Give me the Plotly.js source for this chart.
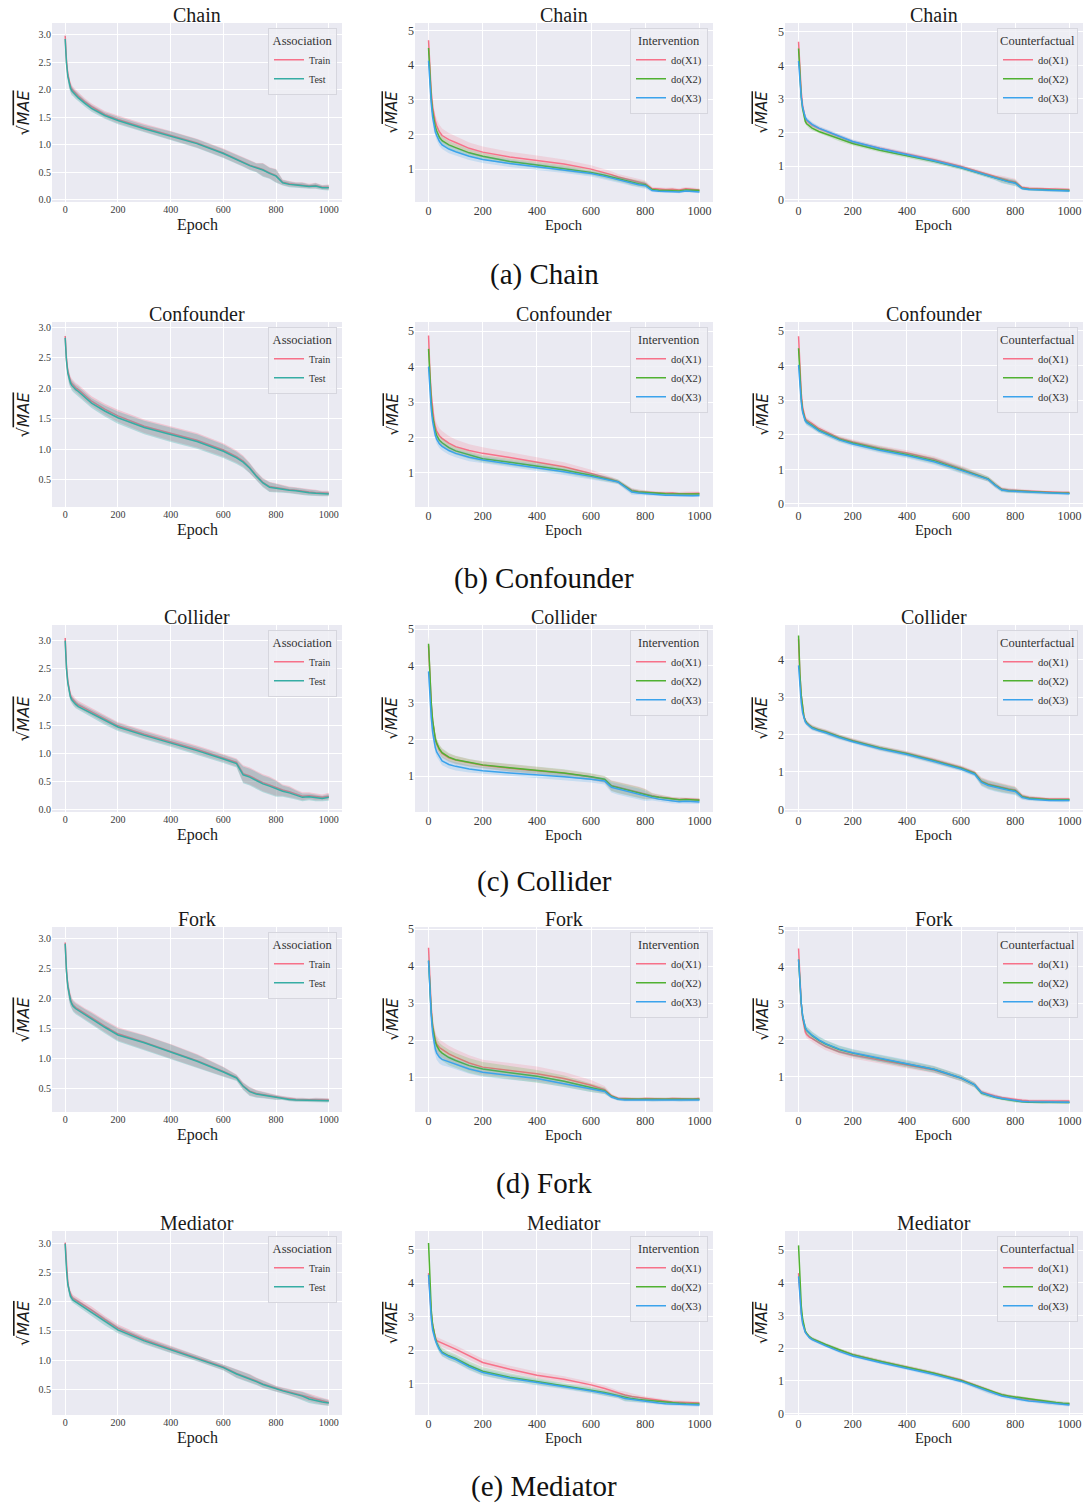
<!DOCTYPE html>
<html>
<head>
<meta charset="utf-8">
<script src="https://cdn.plot.ly/plotly-3.0.1.min.js"></script>
<style>html,body{margin:0;padding:0;background:#fff;}#chart{width:1088px;height:1505px;}</style>
</head>
<body>
<div id="chart"></div>
<script>
// ---------------- DATA ----------------
const epochs = [0,2,5,10,15,20,25,30,40,50,75,100,150,200,300,400,500,600,650,675,700,725,750,775,800,825,850,875,900,925,950,975,1000];
const xTicks = [0,200,400,600,800,1000];
const rowNames = ['Chain','Confounder','Collider','Fork','Mediator'];
const captions = ['(a) Chain','(b) Confounder','(c) Collider','(d) Fork','(e) Mediator'];
const legendTitles = ['Association','Intervention','Counterfactual'];
const assocNames = ['Train','Test'];
const doNames = ['do(X1)','do(X2)','do(X3)'];

// Chain
const chainTrain = [2.98,2.78,2.52,2.28,2.13,2.06,2.01,1.98,1.93,1.88,1.78,1.69,1.55,1.46,1.31,1.17,1.03,0.85,0.74,0.69,0.63,0.59,0.55,0.49,0.44,0.32,0.29,0.28,0.27,0.25,0.26,0.23,0.23];
const chainTest  = [2.92,2.72,2.48,2.24,2.10,2.03,1.98,1.95,1.90,1.85,1.75,1.66,1.53,1.44,1.29,1.16,1.02,0.84,0.73,0.68,0.62,0.58,0.54,0.48,0.43,0.31,0.28,0.27,0.26,0.24,0.25,0.22,0.22];
const chainAssocSd = [0.12,0.10,0.09,0.08,0.08,0.08,0.08,0.07,0.07,0.07,0.06,0.06,0.06,0.07,0.07,0.08,0.08,0.08,0.08,0.08,0.08,0.08,0.12,0.10,0.12,0.05,0.05,0.04,0.05,0.04,0.05,0.04,0.05];
const chainIntX1 = [4.72,4.30,3.80,3.20,2.80,2.55,2.38,2.25,2.08,1.97,1.85,1.77,1.60,1.49,1.35,1.25,1.15,1.00,0.90,0.84,0.77,0.72,0.66,0.62,0.58,0.44,0.42,0.41,0.42,0.40,0.43,0.41,0.40];
const chainIntX2 = [4.50,4.10,3.65,3.05,2.65,2.40,2.22,2.10,1.92,1.82,1.70,1.62,1.47,1.37,1.22,1.12,1.02,0.90,0.82,0.77,0.72,0.67,0.62,0.58,0.55,0.41,0.39,0.38,0.39,0.37,0.40,0.38,0.38];
const chainIntX3 = [4.13,3.80,3.40,2.90,2.50,2.25,2.08,1.97,1.80,1.70,1.58,1.50,1.37,1.28,1.16,1.07,0.98,0.87,0.79,0.74,0.69,0.64,0.60,0.55,0.52,0.38,0.36,0.35,0.36,0.34,0.37,0.35,0.34];
const chainIntSd1 = [0.30,0.28,0.26,0.24,0.22,0.21,0.20,0.20,0.20,0.20,0.19,0.18,0.17,0.16,0.15,0.14,0.13,0.11,0.10,0.10,0.09,0.09,0.10,0.09,0.09,0.05,0.05,0.05,0.05,0.05,0.05,0.05,0.05];
const chainIntSd2 = [0.25,0.22,0.20,0.18,0.16,0.15,0.14,0.13,0.12,0.12,0.11,0.11,0.10,0.10,0.09,0.09,0.09,0.08,0.08,0.08,0.08,0.08,0.09,0.09,0.09,0.04,0.04,0.04,0.04,0.04,0.04,0.04,0.04];
const chainIntSd3 = [0.25,0.22,0.20,0.18,0.17,0.16,0.15,0.14,0.13,0.12,0.12,0.11,0.11,0.10,0.10,0.09,0.09,0.08,0.08,0.08,0.08,0.08,0.09,0.09,0.09,0.04,0.04,0.04,0.04,0.04,0.04,0.04,0.04];
const chainCfX1 = [4.70,4.30,3.80,3.20,2.80,2.55,2.42,2.35,2.27,2.22,2.12,2.04,1.86,1.72,1.53,1.37,1.19,0.99,0.87,0.81,0.74,0.68,0.62,0.57,0.53,0.37,0.34,0.33,0.33,0.31,0.32,0.30,0.30];
const chainCfX2 = [4.50,4.10,3.65,3.05,2.70,2.45,2.33,2.26,2.18,2.13,2.03,1.96,1.80,1.67,1.47,1.31,1.14,0.95,0.84,0.78,0.71,0.65,0.59,0.54,0.50,0.34,0.31,0.30,0.30,0.28,0.29,0.27,0.27];
const chainCfX3 = [4.13,3.85,3.50,3.05,2.75,2.55,2.45,2.38,2.30,2.24,2.13,2.05,1.88,1.73,1.52,1.35,1.16,0.96,0.84,0.78,0.71,0.64,0.58,0.53,0.49,0.33,0.30,0.29,0.29,0.27,0.28,0.26,0.26];
const chainCfSd = [0.15,0.14,0.12,0.10,0.09,0.08,0.08,0.07,0.07,0.07,0.06,0.06,0.06,0.06,0.06,0.06,0.06,0.06,0.06,0.06,0.06,0.06,0.09,0.09,0.09,0.04,0.04,0.04,0.04,0.04,0.04,0.04,0.04];

// Confounder
const confTrain = [2.86,2.68,2.48,2.28,2.17,2.12,2.08,2.05,2.01,1.98,1.88,1.79,1.66,1.55,1.38,1.26,1.15,0.99,0.88,0.81,0.70,0.57,0.46,0.39,0.37,0.36,0.34,0.33,0.31,0.30,0.29,0.28,0.28];
const confTest  = [2.83,2.65,2.45,2.25,2.14,2.09,2.05,2.02,1.98,1.95,1.85,1.76,1.63,1.52,1.36,1.24,1.13,0.97,0.86,0.79,0.69,0.56,0.45,0.38,0.36,0.35,0.33,0.32,0.30,0.29,0.28,0.27,0.27];
const confAssocSd = [0.12,0.10,0.09,0.08,0.08,0.08,0.08,0.08,0.08,0.08,0.08,0.08,0.09,0.10,0.11,0.12,0.12,0.11,0.10,0.09,0.08,0.07,0.07,0.08,0.07,0.06,0.05,0.05,0.05,0.05,0.05,0.04,0.04];
const confIntX1 = [4.88,4.40,3.85,3.20,2.75,2.48,2.30,2.18,2.05,1.97,1.84,1.74,1.63,1.55,1.43,1.31,1.17,0.98,0.88,0.82,0.75,0.62,0.51,0.47,0.45,0.44,0.43,0.42,0.43,0.41,0.42,0.41,0.42];
const confIntX2 = [4.50,4.10,3.60,3.00,2.60,2.35,2.18,2.06,1.92,1.85,1.71,1.62,1.50,1.40,1.30,1.20,1.08,0.93,0.85,0.80,0.75,0.62,0.49,0.46,0.44,0.43,0.42,0.41,0.41,0.40,0.40,0.39,0.40];
const confIntX3 = [4.00,3.70,3.30,2.80,2.45,2.22,2.06,1.95,1.82,1.75,1.63,1.55,1.44,1.36,1.25,1.15,1.03,0.90,0.83,0.78,0.74,0.60,0.46,0.43,0.41,0.40,0.38,0.37,0.37,0.36,0.36,0.35,0.36];
const confIntSd1 = [0.30,0.28,0.27,0.26,0.25,0.24,0.23,0.22,0.21,0.21,0.20,0.20,0.18,0.17,0.15,0.14,0.13,0.11,0.09,0.07,0.06,0.06,0.06,0.06,0.05,0.05,0.05,0.05,0.05,0.05,0.05,0.05,0.05];
const confIntSd2 = [0.22,0.20,0.18,0.16,0.15,0.14,0.13,0.12,0.12,0.12,0.11,0.11,0.10,0.10,0.10,0.10,0.09,0.08,0.08,0.07,0.06,0.07,0.07,0.06,0.05,0.04,0.04,0.04,0.04,0.04,0.04,0.04,0.04];
const confIntSd3 = [0.22,0.20,0.18,0.16,0.15,0.14,0.13,0.13,0.12,0.12,0.12,0.11,0.11,0.10,0.10,0.10,0.09,0.09,0.08,0.07,0.06,0.07,0.08,0.06,0.05,0.04,0.04,0.04,0.04,0.04,0.04,0.04,0.04];
const confCfX1 = [4.85,4.40,3.85,3.20,2.80,2.58,2.47,2.42,2.36,2.32,2.18,2.08,1.90,1.79,1.61,1.47,1.29,1.02,0.88,0.80,0.72,0.56,0.43,0.40,0.39,0.37,0.36,0.35,0.34,0.34,0.33,0.33,0.33];
const confCfX2 = [4.50,4.10,3.65,3.05,2.70,2.52,2.42,2.37,2.31,2.27,2.13,2.04,1.87,1.76,1.58,1.43,1.25,0.99,0.86,0.79,0.72,0.55,0.41,0.38,0.37,0.35,0.34,0.33,0.32,0.32,0.31,0.31,0.31];
const confCfX3 = [4.02,3.75,3.40,2.95,2.65,2.48,2.40,2.35,2.29,2.25,2.11,2.02,1.85,1.73,1.55,1.40,1.22,0.97,0.84,0.78,0.71,0.54,0.40,0.37,0.36,0.34,0.33,0.32,0.31,0.30,0.30,0.29,0.29];
const confCfSd = [0.15,0.14,0.12,0.10,0.09,0.08,0.08,0.08,0.08,0.08,0.07,0.07,0.07,0.07,0.08,0.08,0.09,0.09,0.09,0.08,0.07,0.07,0.06,0.06,0.05,0.05,0.04,0.04,0.04,0.04,0.04,0.04,0.04];

// Collider
const collTrain = [3.05,2.80,2.54,2.28,2.13,2.03,1.98,1.95,1.90,1.86,1.80,1.74,1.61,1.49,1.34,1.21,1.07,0.92,0.84,0.64,0.60,0.54,0.48,0.44,0.39,0.35,0.32,0.28,0.24,0.25,0.23,0.22,0.24];
const collTest  = [3.00,2.75,2.50,2.25,2.10,2.00,1.95,1.92,1.87,1.83,1.77,1.71,1.58,1.47,1.32,1.19,1.05,0.90,0.82,0.62,0.58,0.52,0.46,0.42,0.37,0.33,0.30,0.26,0.22,0.23,0.21,0.20,0.22];
const collAssocSd = [0.12,0.10,0.08,0.07,0.07,0.07,0.07,0.07,0.07,0.07,0.07,0.07,0.07,0.07,0.07,0.07,0.07,0.07,0.07,0.15,0.15,0.15,0.15,0.15,0.14,0.10,0.10,0.08,0.07,0.06,0.06,0.05,0.06];
const collIntX1 = [4.55,4.15,3.60,2.95,2.50,2.20,2.00,1.88,1.72,1.62,1.50,1.44,1.36,1.30,1.22,1.16,1.08,0.98,0.91,0.75,0.70,0.66,0.62,0.57,0.52,0.47,0.44,0.41,0.38,0.37,0.38,0.36,0.36];
const collIntX2 = [4.60,4.20,3.65,3.00,2.52,2.22,2.02,1.90,1.74,1.64,1.52,1.45,1.37,1.31,1.23,1.17,1.09,0.99,0.92,0.74,0.69,0.65,0.61,0.56,0.51,0.46,0.43,0.40,0.37,0.36,0.37,0.35,0.35];
const collIntX3 = [3.85,3.55,3.10,2.60,2.20,1.95,1.78,1.66,1.52,1.42,1.32,1.27,1.20,1.15,1.09,1.05,0.99,0.92,0.87,0.70,0.65,0.61,0.57,0.52,0.47,0.42,0.38,0.35,0.32,0.31,0.32,0.30,0.30];
const collIntSd = [0.25,0.22,0.20,0.18,0.16,0.15,0.14,0.13,0.12,0.12,0.11,0.11,0.10,0.10,0.10,0.10,0.10,0.09,0.09,0.14,0.15,0.15,0.15,0.15,0.14,0.08,0.07,0.06,0.06,0.06,0.05,0.05,0.05];
const collCfX1 = [4.55,4.10,3.60,3.05,2.70,2.48,2.38,2.32,2.25,2.20,2.13,2.08,1.95,1.84,1.65,1.50,1.32,1.12,0.98,0.76,0.68,0.63,0.59,0.55,0.52,0.36,0.32,0.30,0.29,0.28,0.28,0.27,0.28];
const collCfX2 = [4.65,4.15,3.62,3.05,2.70,2.47,2.37,2.31,2.24,2.19,2.12,2.07,1.94,1.83,1.64,1.49,1.30,1.10,0.96,0.74,0.66,0.61,0.57,0.53,0.50,0.34,0.30,0.28,0.27,0.26,0.26,0.25,0.26];
const collCfX3 = [3.85,3.60,3.25,2.85,2.58,2.42,2.34,2.29,2.22,2.17,2.10,2.05,1.92,1.81,1.62,1.47,1.28,1.08,0.94,0.72,0.64,0.59,0.55,0.51,0.48,0.32,0.28,0.26,0.25,0.24,0.24,0.23,0.24];
const collCfSd = [0.15,0.13,0.11,0.09,0.08,0.07,0.07,0.06,0.06,0.06,0.06,0.06,0.06,0.06,0.06,0.06,0.06,0.06,0.06,0.10,0.11,0.11,0.11,0.11,0.10,0.06,0.05,0.04,0.04,0.04,0.04,0.04,0.04];

// Fork
const forkTrain = [2.94,2.72,2.47,2.22,2.07,1.99,1.93,1.89,1.85,1.82,1.75,1.68,1.54,1.41,1.27,1.12,0.96,0.78,0.68,0.54,0.45,0.41,0.39,0.37,0.35,0.34,0.32,0.31,0.31,0.30,0.31,0.30,0.30];
const forkTest  = [2.92,2.70,2.45,2.20,2.05,1.97,1.91,1.87,1.83,1.80,1.73,1.66,1.52,1.39,1.26,1.11,0.95,0.77,0.67,0.53,0.44,0.40,0.38,0.36,0.34,0.33,0.31,0.30,0.30,0.29,0.30,0.29,0.29];
const forkAssocSd = [0.10,0.10,0.10,0.10,0.10,0.10,0.09,0.09,0.09,0.09,0.09,0.10,0.10,0.11,0.12,0.12,0.11,0.08,0.05,0.06,0.07,0.06,0.05,0.04,0.04,0.03,0.03,0.03,0.03,0.03,0.03,0.03,0.03];
const forkIntX1 = [4.50,4.05,3.50,2.85,2.40,2.15,2.00,1.90,1.80,1.75,1.63,1.54,1.38,1.27,1.18,1.09,0.96,0.78,0.66,0.50,0.43,0.42,0.42,0.41,0.42,0.41,0.42,0.41,0.42,0.41,0.42,0.41,0.42];
const forkIntX2 = [4.15,3.80,3.30,2.75,2.35,2.10,1.95,1.85,1.72,1.65,1.53,1.45,1.31,1.22,1.12,1.02,0.89,0.72,0.63,0.48,0.41,0.40,0.40,0.39,0.40,0.39,0.40,0.39,0.40,0.39,0.40,0.39,0.40];
const forkIntX3 = [4.15,3.80,3.25,2.65,2.20,1.92,1.76,1.65,1.54,1.48,1.42,1.36,1.22,1.13,1.04,0.96,0.82,0.68,0.61,0.46,0.40,0.38,0.38,0.37,0.38,0.37,0.38,0.37,0.38,0.37,0.38,0.37,0.38];
const forkIntSd1 = [0.30,0.28,0.27,0.26,0.25,0.24,0.23,0.22,0.22,0.22,0.22,0.21,0.21,0.20,0.20,0.20,0.18,0.14,0.10,0.05,0.04,0.04,0.04,0.04,0.04,0.04,0.04,0.04,0.04,0.04,0.04,0.04,0.04];
const forkIntSd2 = [0.25,0.24,0.23,0.22,0.22,0.21,0.21,0.21,0.21,0.21,0.21,0.20,0.20,0.19,0.18,0.17,0.15,0.12,0.09,0.05,0.04,0.04,0.04,0.04,0.04,0.04,0.04,0.04,0.04,0.04,0.04,0.04,0.04];
const forkIntSd3 = [0.25,0.24,0.23,0.22,0.21,0.20,0.19,0.18,0.17,0.16,0.15,0.14,0.13,0.12,0.11,0.10,0.09,0.08,0.07,0.04,0.04,0.04,0.04,0.04,0.04,0.04,0.04,0.04,0.04,0.04,0.04,0.04,0.04];
const forkCfX1 = [4.50,4.10,3.60,3.00,2.60,2.35,2.22,2.15,2.08,2.04,1.92,1.82,1.68,1.59,1.45,1.32,1.18,0.95,0.78,0.58,0.52,0.47,0.43,0.40,0.37,0.35,0.34,0.34,0.33,0.34,0.33,0.34,0.33];
const forkCfX2 = [4.20,3.90,3.50,3.00,2.65,2.45,2.33,2.26,2.18,2.12,1.99,1.89,1.74,1.64,1.49,1.35,1.20,0.96,0.77,0.55,0.48,0.43,0.39,0.36,0.33,0.31,0.30,0.30,0.29,0.30,0.29,0.30,0.29];
const forkCfX3 = [4.20,3.90,3.50,3.00,2.66,2.46,2.34,2.27,2.19,2.13,2.00,1.90,1.75,1.65,1.50,1.36,1.20,0.96,0.77,0.56,0.49,0.44,0.40,0.37,0.34,0.32,0.31,0.31,0.30,0.31,0.30,0.30,0.30];
const forkCfSd = [0.15,0.14,0.13,0.12,0.11,0.10,0.10,0.10,0.10,0.10,0.10,0.10,0.10,0.10,0.10,0.10,0.09,0.08,0.07,0.06,0.05,0.05,0.04,0.04,0.04,0.04,0.04,0.04,0.04,0.04,0.04,0.04,0.04];

// Mediator
const medTrain = [3.02,2.83,2.58,2.33,2.20,2.13,2.09,2.06,2.03,2.01,1.94,1.86,1.70,1.55,1.35,1.19,1.04,0.88,0.77,0.73,0.69,0.64,0.59,0.55,0.51,0.48,0.45,0.42,0.39,0.35,0.32,0.29,0.27];
const medTest  = [3.00,2.80,2.55,2.30,2.17,2.10,2.06,2.03,2.00,1.97,1.90,1.82,1.66,1.52,1.33,1.18,1.03,0.87,0.76,0.72,0.68,0.63,0.58,0.54,0.50,0.47,0.44,0.41,0.38,0.33,0.30,0.28,0.26];
const medAssocSd = [0.08,0.08,0.07,0.07,0.06,0.06,0.06,0.06,0.06,0.06,0.06,0.06,0.06,0.06,0.06,0.06,0.05,0.05,0.07,0.07,0.07,0.06,0.06,0.06,0.05,0.05,0.05,0.06,0.07,0.07,0.06,0.06,0.05];
const medIntX1 = [4.30,4.00,3.60,3.10,2.75,2.50,2.38,2.28,2.24,2.20,2.12,2.03,1.82,1.63,1.43,1.25,1.13,0.96,0.85,0.78,0.71,0.66,0.61,0.58,0.55,0.52,0.49,0.47,0.45,0.44,0.43,0.42,0.42];
const medIntX2 = [5.20,4.70,4.00,3.20,2.75,2.50,2.35,2.22,2.05,1.94,1.83,1.75,1.54,1.37,1.19,1.06,0.94,0.80,0.73,0.68,0.64,0.58,0.55,0.52,0.50,0.47,0.45,0.43,0.42,0.41,0.40,0.39,0.39];
const medIntX3 = [4.25,3.95,3.50,2.95,2.60,2.42,2.30,2.19,2.02,1.91,1.80,1.72,1.50,1.33,1.16,1.03,0.91,0.78,0.70,0.66,0.62,0.55,0.52,0.50,0.48,0.45,0.42,0.40,0.39,0.38,0.37,0.36,0.36];
const medIntSd1 = [0.20,0.18,0.16,0.14,0.12,0.11,0.11,0.11,0.11,0.11,0.11,0.11,0.11,0.11,0.10,0.10,0.09,0.09,0.09,0.09,0.08,0.10,0.09,0.08,0.07,0.06,0.06,0.05,0.05,0.05,0.05,0.05,0.05];
const medIntSd2 = [0.20,0.18,0.16,0.14,0.12,0.12,0.12,0.12,0.12,0.12,0.12,0.12,0.12,0.12,0.11,0.10,0.09,0.08,0.08,0.08,0.08,0.10,0.09,0.08,0.07,0.06,0.06,0.05,0.05,0.05,0.05,0.05,0.05];
const medIntSd3 = [0.18,0.16,0.14,0.12,0.11,0.10,0.10,0.10,0.10,0.10,0.10,0.10,0.10,0.10,0.10,0.09,0.08,0.08,0.07,0.07,0.07,0.09,0.08,0.07,0.06,0.05,0.05,0.05,0.05,0.05,0.05,0.05,0.05];
const medCfX1 = [4.30,4.00,3.60,3.10,2.80,2.60,2.50,2.44,2.34,2.28,2.18,2.10,1.94,1.80,1.60,1.42,1.23,1.02,0.86,0.78,0.70,0.63,0.57,0.52,0.49,0.45,0.42,0.39,0.37,0.34,0.32,0.30,0.29];
const medCfX2 = [5.15,4.70,4.05,3.30,2.90,2.65,2.52,2.45,2.35,2.29,2.19,2.11,1.95,1.80,1.60,1.42,1.23,1.01,0.86,0.78,0.70,0.63,0.57,0.53,0.50,0.46,0.43,0.40,0.38,0.35,0.33,0.31,0.30];
const medCfX3 = [4.20,3.95,3.55,3.05,2.75,2.57,2.48,2.42,2.32,2.26,2.16,2.07,1.90,1.76,1.56,1.38,1.19,0.98,0.83,0.75,0.66,0.59,0.53,0.49,0.45,0.41,0.38,0.36,0.34,0.31,0.29,0.27,0.26];
const medCfSd = [0.10,0.09,0.08,0.07,0.06,0.06,0.05,0.05,0.05,0.05,0.05,0.05,0.05,0.05,0.05,0.05,0.05,0.05,0.06,0.06,0.06,0.05,0.05,0.05,0.05,0.05,0.05,0.05,0.05,0.05,0.05,0.05,0.05];

// ---------------- STRUCTURE ----------------
const panelData = [
  [[[chainTrain,chainAssocSd],[chainTest,chainAssocSd]],
   [[chainIntX1,chainIntSd1],[chainIntX2,chainIntSd2],[chainIntX3,chainIntSd3]],
   [[chainCfX1,chainCfSd],[chainCfX2,chainCfSd],[chainCfX3,chainCfSd]]],
  [[[confTrain,confAssocSd],[confTest,confAssocSd]],
   [[confIntX1,confIntSd1],[confIntX2,confIntSd2],[confIntX3,confIntSd3]],
   [[confCfX1,confCfSd],[confCfX2,confCfSd],[confCfX3,confCfSd]]],
  [[[collTrain,collAssocSd],[collTest,collAssocSd]],
   [[collIntX1,collIntSd],[collIntX2,collIntSd],[collIntX3,collIntSd]],
   [[collCfX1,collCfSd],[collCfX2,collCfSd],[collCfX3,collCfSd]]],
  [[[forkTrain,forkAssocSd],[forkTest,forkAssocSd]],
   [[forkIntX1,forkIntSd1],[forkIntX2,forkIntSd2],[forkIntX3,forkIntSd3]],
   [[forkCfX1,forkCfSd],[forkCfX2,forkCfSd],[forkCfX3,forkCfSd]]],
  [[[medTrain,medAssocSd],[medTest,medAssocSd]],
   [[medIntX1,medIntSd1],[medIntX2,medIntSd2],[medIntX3,medIntSd3]],
   [[medCfX1,medCfSd],[medCfX2,medCfSd],[medCfX3,medCfSd]]]
];

// ---------------- LAYOUT / STYLE ----------------
const W = 1088, H = 1505;
const px2x = p => p / W;
const py2y = p => 1 - p / H;
const colPx = [[52,342],[415,713],[785,1083]];
const rowPx = [[23,202],[322,507],[625,812],[927,1112],[1231,1415]];
const yRanges = [
  [[-0.04,3.21],[0.05,5.22],[-0.07,5.26]],
  [[0.055,3.09],[0.035,5.26],[-0.09,5.26]],
  [[-0.04,3.28],[0.03,5.11],[-0.07,4.93]],
  [[0.10,3.20],[0.056,5.06],[0.03,5.09]],
  [[0.055,3.22],[0.06,5.56],[-0.05,5.59]]
];
const captionY = [275,578,881,1183,1486];
const assocColors = ['247,113,137','54,173,164'];
const doColors = ['247,113,137','80,177,49','59,163,236'];
const serif = 'Liberation Serif, Times New Roman, serif';

const traces = [];
const layout = {
  width: W, height: H,
  margin: {l:0, r:0, t:0, b:0},
  paper_bgcolor: '#ffffff',
  plot_bgcolor: '#EAEAF2',
  showlegend: true,
  annotations: []
};

const revEpochs = epochs.slice().reverse();

for (let r = 0; r < 5; r++) {
  for (let c = 0; c < 3; c++) {
    const idx = r * 3 + c + 1;
    const s = idx === 1 ? '' : String(idx);
    const xa = 'x' + s, ya = 'y' + s;
    const legKey = 'legend' + s;
    const series = panelData[r][c];
    const names = c === 0 ? assocNames : doNames;
    const cols = c === 0 ? assocColors : doColors;
    const alpha = c === 0 ? 0.3 : 0.2;

    series.forEach((pair, i) => {
      const mean = pair[0], sd = pair[1];
      const upper = mean.map((v, j) => v + sd[j]);
      const lower = mean.map((v, j) => v - sd[j]);
      traces.push({
        x: epochs.concat(revEpochs),
        y: upper.concat(lower.slice().reverse()),
        type: 'scatter', mode: 'lines', fill: 'toself',
        fillcolor: 'rgba(' + cols[i] + ',' + alpha + ')',
        line: {width: 0, color: 'rgba(0,0,0,0)'},
        hoverinfo: 'skip', showlegend: false,
        xaxis: xa, yaxis: ya
      });
      traces.push({
        x: epochs, y: mean,
        type: 'scatter', mode: 'lines',
        name: names[i],
        line: {color: 'rgb(' + cols[i] + ')', width: 1.5},
        xaxis: xa, yaxis: ya,
        legend: legKey
      });
    });

    const [x0, x1] = colPx[c];
    const [y0, y1] = rowPx[r];
    const tickSize = c === 0 ? 10 : 12;

    layout['xaxis' + s] = {
      domain: [px2x(x0), px2x(x1)],
      anchor: ya,
      range: [-50, 1050],
      tickvals: xTicks,
      ticktext: xTicks.map(String),
      showgrid: true, gridcolor: '#ffffff', gridwidth: 1,
      zeroline: false, showline: false, ticks: '',
      tickfont: {family: serif, size: tickSize, color: '#3a3a3a'}
    };
    layout['yaxis' + s] = {
      domain: [py2y(y1), py2y(y0)],
      anchor: xa,
      range: yRanges[r][c],
      dtick: c === 0 ? 0.5 : 1,
      tick0: 0,
      tickformat: c === 0 ? '.1f' : 'd',
      showgrid: true, gridcolor: '#ffffff', gridwidth: 1,
      zeroline: false, showline: false, ticks: '',
      tickfont: {family: serif, size: tickSize, color: '#3a3a3a'}
    };

    layout[legKey] = {
      x: px2x(x1 - 5), y: py2y(y0 + 5),
      xanchor: 'right', yanchor: 'top',
      xref: 'paper', yref: 'paper',
      bgcolor: 'rgba(238,238,245,0.85)',
      bordercolor: '#d6d6de', borderwidth: 1,
      font: {family: serif, size: c === 0 ? 10 : 10.5, color: '#333'},
      title: {text: legendTitles[c], side: 'top center', font: {family: serif, size: 12.5, color: '#333'}},
      itemwidth: 30,
      tracegroupgap: 0
    };

    const cx = px2x((x0 + x1) / 2);
    // panel title
    layout.annotations.push({
      text: rowNames[r], x: cx, y: py2y(y0 - 8), xref: 'paper', yref: 'paper',
      xanchor: 'center', yanchor: 'middle', showarrow: false,
      font: {family: serif, size: 20, color: '#1a1a1a'}
    });
    // x axis title
    layout.annotations.push({
      text: 'Epoch', x: cx, y: py2y(y1 + 23), xref: 'paper', yref: 'paper',
      xanchor: 'center', yanchor: 'middle', showarrow: false,
      font: {family: serif, size: c === 0 ? 16 : 14.5, color: '#1a1a1a'}
    });
    // y axis title
    layout.annotations.push({
      text: '√<span style="text-decoration:overline"><i>MAE</i></span>',
      x: px2x(c === 0 ? x0 - 29 : x0 - 23), y: py2y((y0 + y1) / 2),
      xref: 'paper', yref: 'paper', textangle: -90,
      xanchor: 'center', yanchor: 'middle', showarrow: false,
      font: {family: 'DejaVu Sans, sans-serif', size: c === 0 ? 16 : 15, color: '#1a1a1a'}
    });
  }
  // row caption
  layout.annotations.push({
    text: captions[r], x: px2x(544), y: py2y(captionY[r]), xref: 'paper', yref: 'paper',
    xanchor: 'center', yanchor: 'middle', showarrow: false,
    font: {family: serif, size: 29, color: '#111'}
  });
}

Plotly.newPlot('chart', traces, layout, {displayModeBar: false, responsive: false});
</script>
</body>
</html>
